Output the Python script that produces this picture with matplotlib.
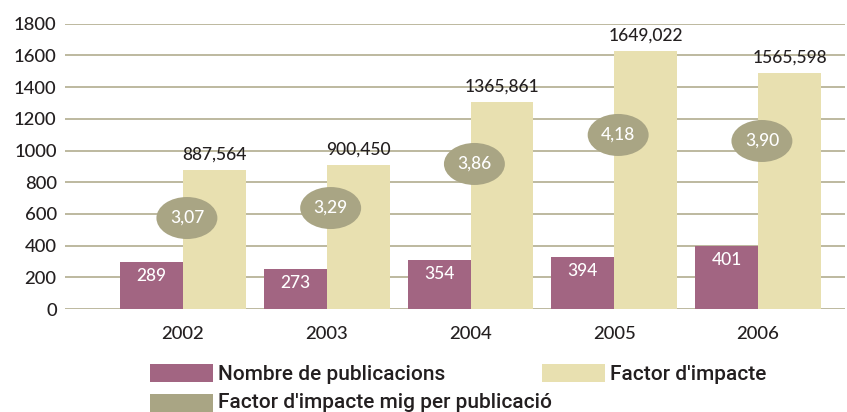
import matplotlib
matplotlib.use('Agg')
import matplotlib.pyplot as plt
from matplotlib.patches import Ellipse, Rectangle

# ==========================================
# Data
# ==========================================
years = ['2002', '2003', '2004', '2005', '2006']
publications = [289, 273, 354, 394, 401]                      # printed labels
impact = ['887,564', '900,450', '1365,861', '1649,022', '1565,598']
ratio = ['3,07', '3,29', '3,86', '4,18', '3,90']
# heights as they are drawn in the picture
pub_bar = [297, 252, 309, 328, 399]
impact_bar = [877, 908, 1306, 1628, 1489]
ratio_y = [574, 637, 915, 1098, 1060]

PURPLE = '#A26582'
YELLOW = '#E8E0B0'
OLIVE = '#A9A584'
GRID = '#B8B397'
TEXT = '#231F20'

plt.rcParams.update({
    "font.family": ["Lato", "DejaVu Sans"],
    "font.weight": "medium",
    "text.color": TEXT,
})

W, H = 847, 412
fig = plt.figure(figsize=(W / 100, H / 100), dpi=100)


def fx(px):
    return px / W


def fy(py):
    return 1 - py / H


ax = fig.add_axes([fx(65), fy(309), fx(845) - fx(65), fy(23.7) - fy(309)])

x = list(range(len(years)))
bw = 0.438
ax.bar([i - bw / 2 for i in x], pub_bar, width=bw, color=PURPLE, zorder=2)
ax.bar([i + bw / 2 for i in x], impact_bar, width=bw, color=YELLOW, zorder=2)

for i in x:
    ax.text(i - bw / 2, pub_bar[i] - 38, str(publications[i]), ha='center', va='top',
            color='white', fontsize=12.5, zorder=4)
    ax.text(i + bw / 2, impact_bar[i] + 44, impact[i], ha='center', va='bottom',
            color=TEXT, fontsize=12.5, zorder=4)
    ax.add_patch(Ellipse((i + 0.027, ratio_y[i]), 0.424, 265, color=OLIVE, zorder=3, lw=0))
    ax.text(i + 0.027, ratio_y[i], ratio[i], ha='center', va='center',
            color='white', fontsize=12.5, zorder=4)

ax.set_xlim(-0.821, 4.605)
ax.set_ylim(0, 1800)
ax.set_yticks(range(0, 1801, 200))
ax.set_xticks(x)
ax.set_xticklabels(years)
ax.yaxis.grid(True, color=GRID, linewidth=1.3, zorder=0)
ax.set_axisbelow(True)
for s in ax.spines.values():
    s.set_visible(False)
ax.tick_params(axis='both', length=0, labelsize=13.3, labelcolor=TEXT)
ax.tick_params(axis='y', pad=6)
ax.tick_params(axis='x', pad=12)

# legend, drawn by hand to keep the two-row layout
legend_items = [
    (150, 364, 380, PURPLE, 'Nombre de publicacions'),
    (542, 364, 380, YELLOW, "Factor d'impacte"),
    (150, 394, 408, OLIVE, "Factor d'impacte mig per publicació"),
]
for px, py, base, col, label in legend_items:
    fig.add_artist(Rectangle((fx(px), fy(py + 18)), fx(63), 18 / H, color=col,
                             transform=fig.transFigure, lw=0))
    fig.text(fx(px + 68), fy(base), label, ha='left', va='baseline',
             fontsize=15, color=TEXT, family=['Roboto', 'DejaVu Sans'])

fig.savefig('out.png', dpi=100)
